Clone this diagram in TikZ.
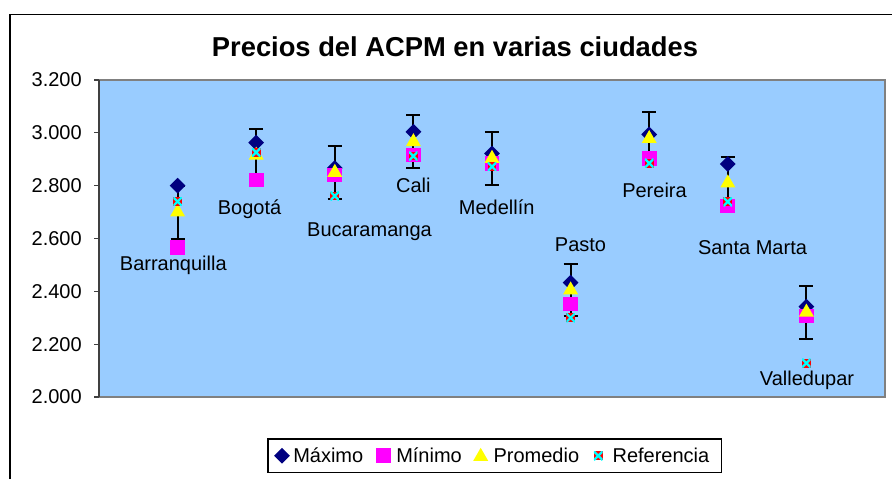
\documentclass[tikz,border=0pt]{standalone}
\usepackage{fontspec}
\setmainfont{Liberation Sans}
\usetikzlibrary{shapes.geometric}
\definecolor{plotbg}{HTML}{99CCFF}
\definecolor{navym}{HTML}{000080}
\definecolor{magm}{HTML}{FF00FF}
\definecolor{yelm}{HTML}{FFFF00}
\definecolor{cyanm}{HTML}{00FFFF}
\definecolor{redm}{HTML}{FF0000}
\definecolor{bordergray}{HTML}{808080}
\newcommand\vy[1]{80+(3200-#1)*0.264167}
\begin{document}
\begin{tikzpicture}[x=0.75pt,y=-0.75pt,
  maxmark/.style={diamond,fill=navym,inner sep=0pt,minimum size=12pt},
  minmark/.style={rectangle,fill=magm,inner sep=0pt,minimum size=11pt},
  prommark/.style={regular polygon,regular polygon sides=3,fill=yelm,inner sep=0pt,minimum size=13pt},
  refmark/.style={rectangle,fill=redm,inner sep=0pt,minimum size=6.5pt,
    path picture={\draw[cyanm,line width=1.7pt]
      (path picture bounding box.north west)--(path picture bounding box.south east)
      (path picture bounding box.north east)--(path picture bounding box.south west);}},
  ebar/.style={black,line width=1.5pt},
  citylabel/.style={font=\fontsize{15pt}{18pt}\selectfont,inner sep=0pt,anchor=base},
  axislabel/.style={font=\fontsize{15pt}{18pt}\selectfont,inner sep=0pt,anchor=east},
  legtext/.style={font=\fontsize{15pt}{18pt}\selectfont,inner sep=0pt,anchor=base west},
  ]
\useasboundingbox (0,0) rectangle (892,479);
\fill[white] (0,0) rectangle (892,479);
% outer frame
\draw[black,line width=0.9pt] (10,479) -- (10,14.5) -- (892,14.5);
% title
\node[font=\fontsize{20.5pt}{24pt}\selectfont\bfseries,inner sep=0pt,anchor=base] (title) at (455,56.7) {Precios del ACPM en varias ciudades};
% plot area
\fill[plotbg] (99,80) rectangle (885,397);
\draw[bordergray,line width=1.5pt] (99,80) -- (885,80) -- (885,397) -- (99,397);
\draw[black!75,line width=0.9pt] (99,80) -- (99,397);
% y axis ticks and labels
\foreach \v/\t in {3200/3.200,3000/3.000,2800/2.800,2600/2.600,2400/2.400,2200/2.200,2000/2.000}{
  \draw[black!75,line width=0.9pt] (94,{\vy{\v}}) -- (99,{\vy{\v}});
  \node[axislabel] (yl\v) at (82,{\vy{\v}}) {\t};
}
% data
\foreach \i/\mx/\mn/\pr/\rf in {1/2800/2567/2700/2740,2/2963/2821/2915/2926,3/2867/2840/2850/2761,4/3004/2916/2966/2912,5/2922/2885/2903/2872,6/2433/2352/2405/2300,7/2994/2904/2978/2885,8/2882/2723/2810/2739,9/2342/2307/2321/2128}{
  \pgfmathsetmacro\cx{99+78.6*\i}
  \pgfmathsetmacro\hi{\pr+100}
  \pgfmathsetmacro\lo{\pr-100}
  \coordinate (et\i) at (\cx,{\vy{\hi}});
  \coordinate (eb\i) at (\cx,{\vy{\lo}});
  \draw[ebar] (et\i) -- (eb\i);
  \draw[ebar] ([xshift=-5.3pt]et\i) -- ([xshift=5.3pt]et\i);
  \draw[ebar] ([xshift=-5.3pt]eb\i) -- ([xshift=5.3pt]eb\i);
  \node[maxmark] (mx\i) at (\cx,{\vy{\mx}}) {};
  \node[minmark] (mn\i) at (\cx,{\vy{\mn}}) {};
  \node[prommark] (pr\i) at (\cx,{\vy{\pr}}) {};
  \node[refmark] (rf\i) at (\cx,{\vy{\rf}}) {};
}
% city labels
\node[citylabel] (lb1) at (173.3,270) {Barranquilla};
\node[citylabel] (lb2) at (249.5,214.3) {Bogotá};
\node[citylabel] (lb3) at (369.5,236.5) {Bucaramanga};
\node[citylabel] (lb4) at (413.3,192.3) {Cali};
\node[citylabel] (lb5) at (496.7,214.3) {Medellín};
\node[citylabel] (lb6) at (580.5,251) {Pasto};
\node[citylabel] (lb7) at (654.5,197.7) {Pereira};
\node[citylabel] (lb8) at (752.5,254) {Santa Marta};
\node[citylabel] (lb9) at (807,385) {Valledupar};
% legend
\draw[black,line width=0.9pt,fill=white] (268,439) rectangle (721.7,472.3);
\node[maxmark] (lgmx) at (282,455.7) {};
\node[legtext] (lgmxt) at (293,462.3) {Máximo};
\node[minmark] (lgmn) at (383.3,455.7) {};
\node[legtext] (lgmnt) at (396,462.3) {Mínimo};
\node[prommark] (lgpr) at (480.7,456.5) {};
\node[legtext] (lgprt) at (493.3,462.3) {Promedio};
\node[refmark] (lgrf) at (598.3,455.7) {};
\node[legtext] (lgrft) at (612.3,462.3) {Referencia};
\end{tikzpicture}
\end{document}
